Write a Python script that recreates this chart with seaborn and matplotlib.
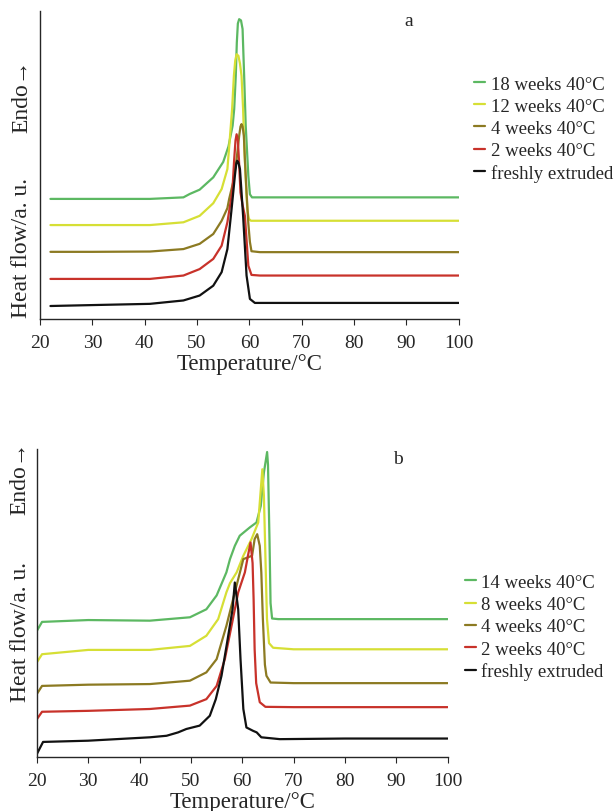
import matplotlib
matplotlib.use("Agg")
import matplotlib.pyplot as plt
import numpy as np
import pandas as pd
import seaborn as sns

# %% data (heat flow in arbitrary units)
labels_a = ["18 weeks 40°C", "12 weeks 40°C", "4 weeks 40°C", "2 weeks 40°C", "freshly extruded"]
labels_b = ["14 weeks 40°C", "8 weeks 40°C", "4 weeks 40°C", "2 weeks 40°C", "freshly extruded"]

# panel a
t_a_green = [22, 30, 41, 47.4, 48.6, 50.5, 53.1, 55.0, 56.0, 56.8, 57.1, 57.4, 57.6, 57.8, 58.05, 58.4, 58.7, 59.0, 59.3, 59.8, 60.1, 60.5, 62, 70, 80, 90, 100]
hf_a_green = [3.9, 3.9, 3.9, 3.95, 4.06, 4.2, 4.6, 5.1, 5.6, 6.28, 6.82, 7.9, 8.98, 9.6, 9.74, 9.7, 9.42, 7.9, 6.28, 4.65, 4.05, 3.95, 3.95, 3.95, 3.95, 3.95, 3.95]
t_a_yellow = [22, 30, 41, 47.4, 50.5, 53.1, 54.7, 55.8, 56.1, 56.7, 57.04, 57.3, 57.56, 57.9, 58.2, 58.5, 58.8, 59.0, 59.27, 59.6, 59.9, 60.3, 62, 70, 80, 90, 100]
hf_a_yellow = [3.05, 3.05, 3.05, 3.14, 3.35, 3.76, 4.22, 4.87, 5.5, 6.82, 7.9, 8.4, 8.6, 8.55, 8.3, 7.9, 6.82, 5.74, 4.65, 3.57, 3.25, 3.19, 3.19, 3.19, 3.19, 3.19, 3.19]
t_a_olive = [22, 30, 41, 47.4, 50.5, 53.1, 54.7, 55.8, 56.14, 56.9, 57.56, 58.05, 58.3, 58.5, 58.7, 58.95, 59.14, 59.46, 59.8, 60.1, 60.4, 62, 70, 80, 90, 100]
hf_a_olive = [2.18, 2.18, 2.19, 2.27, 2.44, 2.76, 3.19, 3.6, 3.9, 4.44, 5.19, 5.95, 6.25, 6.33, 6.25, 5.95, 5.19, 4.11, 3.1, 2.5, 2.2, 2.17, 2.17, 2.17, 2.17, 2.17]
t_a_red = [22, 30, 41, 47.4, 50.5, 53.1, 54.7, 55.8, 56.6, 56.8, 57.1, 57.35, 57.56, 57.8, 58.0, 58.3, 58.7, 59.14, 59.8, 60.4, 62, 70, 80, 90, 100]
hf_a_red = [1.3, 1.3, 1.3, 1.41, 1.62, 1.95, 2.38, 3.14, 4.0, 4.3, 5.19, 5.8, 6.0, 5.8, 5.19, 4.11, 3.7, 3.35, 1.73, 1.43, 1.41, 1.41, 1.41, 1.41, 1.41]
t_a_black = [22, 30, 41, 47.4, 50.5, 53.1, 54.7, 55.8, 56.6, 57.23, 57.5, 57.67, 57.9, 58.2, 58.8, 59.46, 60.1, 61.05, 62, 70, 80, 90, 100]
hf_a_black = [0.42, 0.45, 0.49, 0.6, 0.76, 1.08, 1.52, 2.27, 3.57, 4.65, 5.05, 5.14, 5.08, 4.87, 3.35, 1.41, 0.65, 0.52, 0.52, 0.52, 0.52, 0.52, 0.52]

# panel b
t_b_green = [20, 21, 30, 42, 49.8, 53.0, 55.0, 56.9, 57.6, 58.54, 59.5, 61.46, 62.76, 63.6, 64.2, 64.83, 65.0, 65.3, 65.5, 65.8, 67, 70, 80, 90, 100]
hf_b_green = [4.1, 4.39, 4.45, 4.43, 4.54, 4.8, 5.25, 6.0, 6.43, 6.86, 7.19, 7.46, 7.62, 8.16, 9.24, 9.91, 9.5, 7.0, 5.0, 4.5, 4.48, 4.48, 4.48, 4.48, 4.48]
t_b_yellow = [20, 21, 30, 42, 49.8, 53.0, 55.3, 56.9, 57.6, 58.9, 60.2, 61.8, 63.1, 63.6, 63.9, 64.2, 64.5, 64.8, 65.2, 66.0, 70, 80, 90, 100]
hf_b_yellow = [3.08, 3.34, 3.48, 3.48, 3.61, 3.94, 4.48, 5.35, 5.65, 6.0, 6.54, 7.08, 7.62, 8.7, 9.35, 8.5, 6.5, 4.5, 3.7, 3.55, 3.5, 3.5, 3.5, 3.5]
t_b_olive = [20, 21, 30, 42, 49.8, 53.0, 55.0, 56.9, 58.54, 60.2, 61.9, 62.4, 62.9, 63.4, 63.7, 64.0, 64.4, 64.7, 65.5, 70, 80, 90, 100]
hf_b_olive = [2.05, 2.31, 2.35, 2.37, 2.48, 2.75, 3.18, 4.26, 5.35, 6.43, 6.54, 7.08, 7.24, 6.86, 6.0, 4.5, 3.0, 2.64, 2.42, 2.4, 2.4, 2.4, 2.4]
t_b_red = [20, 21, 30, 42, 49.8, 53.0, 55.0, 56.6, 57.9, 59.2, 60.5, 61.1, 61.6, 62.0, 62.2, 62.4, 62.7, 63.4, 64.5, 70, 80, 90, 100]
hf_b_red = [1.23, 1.47, 1.5, 1.56, 1.67, 1.88, 2.31, 3.18, 4.26, 5.35, 6.0, 6.54, 6.97, 6.3, 5.13, 3.5, 2.4, 1.78, 1.63, 1.62, 1.62, 1.62, 1.62]
t_b_black = [20, 21.2, 30, 42, 45.25, 47.5, 49.1, 51.7, 53.67, 54.84, 55.95, 57.04, 58.1, 58.54, 59.2, 59.65, 60.2, 60.8, 62.1, 62.8, 63.7, 67.3, 80, 90, 100]
hf_b_black = [0.1, 0.49, 0.53, 0.64, 0.69, 0.8, 0.91, 1.02, 1.34, 1.88, 2.64, 3.72, 4.8, 5.67, 4.8, 3.18, 1.56, 0.96, 0.85, 0.8, 0.64, 0.58, 0.6, 0.6, 0.6]

colors = ["#5cb862", "#d6df35", "#8c7a22", "#c8322a", "#111111"]


def long_frame(labels, ts, hfs):
    parts = []
    for lab, t, hf in zip(labels, ts, hfs):
        parts.append(pd.DataFrame({"T": t, "hf": hf, "sample": lab}))
    return pd.concat(parts, ignore_index=True)


df_a = long_frame(
    labels_a,
    [t_a_green, t_a_yellow, t_a_olive, t_a_red, t_a_black],
    [hf_a_green, hf_a_yellow, hf_a_olive, hf_a_red, hf_a_black],
)
df_b = long_frame(
    labels_b,
    [t_b_green, t_b_yellow, t_b_olive, t_b_red, t_b_black],
    [hf_b_green, hf_b_yellow, hf_b_olive, hf_b_red, hf_b_black],
)

# %% plot
sns.set_style("ticks")
plt.rcParams["font.family"] = ["Liberation Serif", "DejaVu Serif"]

fig = plt.figure(figsize=(6.15, 8.12), dpi=100)
ax_a = fig.add_axes([0.065, 0.606, 0.681, 0.379])
ax_b = fig.add_axes([0.060, 0.0665, 0.668, 0.379])

panels = [
    (ax_a, df_a, labels_a, "a", (0.88, 0.97), (1.036, 0.618), 0.233, 0.727, -0.043),
    (ax_b, df_b, labels_b, "b", (0.88, 0.97), (1.041, 0.422), 0.41, 0.91, -0.041),
]

for ax, df, labels, tag, tag_pos, leg_pos, hf_y, endo_y, lab_x in panels:
    sns.lineplot(
        data=df, x="T", y="hf", hue="sample", hue_order=labels,
        palette=dict(zip(labels, colors)), estimator=None, sort=False,
        linewidth=1.6, ax=ax,
    )
    for line in ax.get_lines():
        line.set_solid_joinstyle("round")
    ax.set_xlim(20, 100)
    ax.set_ylim(0, 10)
    ax.set_xticks(np.arange(20, 101, 10))
    ax.set_yticks([])
    ax.tick_params(axis="x", direction="out", length=4, width=0.8, labelsize=14, pad=7)
    sns.despine(ax=ax)
    ax.spines["left"].set_linewidth(1.0)
    ax.spines["bottom"].set_linewidth(1.0)
    ax.set_xlabel("Temperature/°C", fontsize=16.5, labelpad=1)
    ax.set_ylabel("")
    ax.text(lab_x, hf_y, "Heat flow/a. u.", rotation=90, fontsize=17,
            transform=ax.transAxes, ha="center", va="center")
    ax.text(lab_x, endo_y, "Endo→", rotation=90, fontsize=17,
            transform=ax.transAxes, ha="center", va="center",
            family=["Liberation Serif", "DejaVu Sans"])
    ax.text(tag_pos[0], tag_pos[1], tag, fontsize=14, transform=ax.transAxes,
            ha="center", va="center")
    sns.move_legend(
        ax, "center left", bbox_to_anchor=leg_pos, frameon=False, title=None,
        fontsize=13.5, handlelength=0.6, handletextpad=0.3, labelspacing=0.27,
        borderpad=0, borderaxespad=0,
    )

fig.savefig("out.png", dpi=100)
